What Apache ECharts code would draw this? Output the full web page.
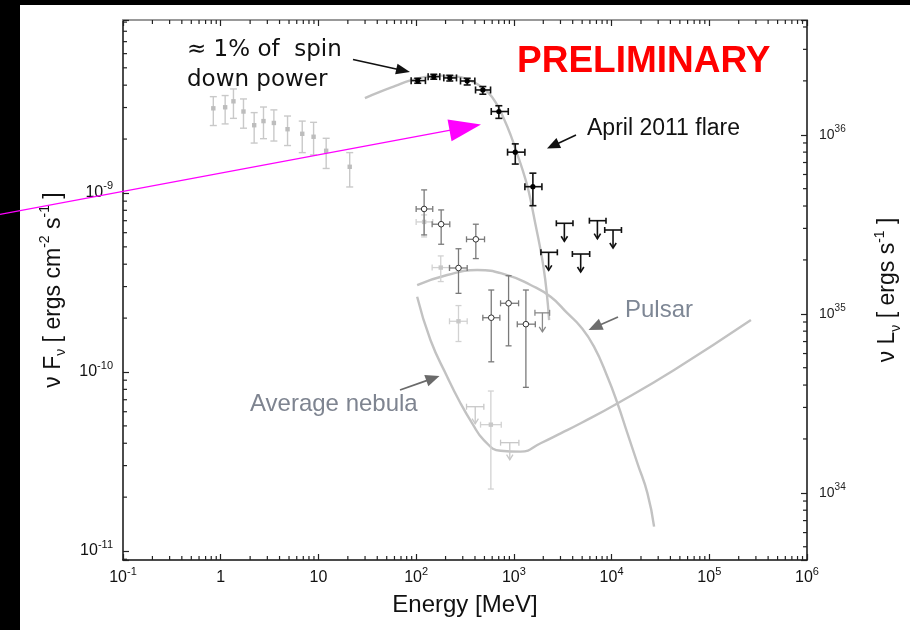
<!DOCTYPE html>
<html>
<head>
<meta charset="utf-8">
<script src="https://cdn.jsdelivr.net/npm/echarts@6/dist/echarts.min.js"></script>
<style>
  html, body { margin: 0; padding: 0; background: #000; }
  #chart { width: 910px; height: 630px; }
</style>
</head>
<body>
<div id="chart"></div>
<script>
// Crab nebula gamma-ray SED: energies in MeV, nuF_nu in erg cm^-2 s^-1

// Low-energy points (squares, vertical error bars only)
const comptelE   = [0.84, 1.11, 1.35, 1.71, 2.20, 2.74, 3.50, 4.83, 6.83, 8.92, 12.0, 20.9];
const comptelF   = [2.97e-9, 3.01e-9, 3.25e-9, 2.85e-9, 2.39e-9, 2.52e-9, 2.46e-9, 2.27e-9, 2.14e-9, 2.06e-9, 1.72e-9, 1.40e-9];
const comptelFLo = [2.38e-9, 2.43e-9, 2.61e-9, 2.30e-9, 1.90e-9, 2.01e-9, 1.95e-9, 1.84e-9, 1.68e-9, 1.63e-9, 1.37e-9, 1.08e-9];
const comptelFHi = [3.45e-9, 3.50e-9, 3.81e-9, 3.35e-9, 2.81e-9, 3.02e-9, 2.91e-9, 2.69e-9, 2.52e-9, 2.48e-9, 2.02e-9, 1.68e-9];

// April 2011 flare spectrum
const flareE   = [103.8, 151.5, 221, 333, 481.5, 702, 1034, 1566];
const flareELo = [88.9, 132.7, 191.8, 284.4, 405.3, 587, 862, 1297];
const flareEHi = [124.5, 174.5, 258.8, 398.7, 577.5, 876.5, 1297, 1937];
const flareF   = [4.24e-9, 4.46e-9, 4.39e-9, 4.22e-9, 3.76e-9, 2.85e-9, 1.69e-9, 1.084e-9];
const flareFLo = [4.10e-9, 4.32e-9, 4.22e-9, 4.01e-9, 3.56e-9, 2.61e-9, 1.45e-9, 8.49e-10];
const flareFHi = [4.37e-9, 4.60e-9, 4.54e-9, 4.37e-9, 3.93e-9, 3.07e-9, 1.88e-9, 1.29e-9];

// April 2011 flare upper limits
const flareUlE   = [2269, 3287, 4829, 7161, 10350];
const flareUlELo = [1892, 2722, 3970, 5929, 8509];
const flareUlEHi = [2786, 4027, 5970, 8770, 12620];
const flareUlF   = [4.66e-10, 6.77e-10, 4.56e-10, 7.00e-10, 6.21e-10];

// Earlier flare (open circles)
const prevE   = [120.7, 180.3, 271.3, 408.2, 587, 883, 1328];
const prevELo = [100, 145.8, 219.4, 327.7, 481.5, 731, 1084];
const prevEHi = [147.9, 221, 333, 501, 719, 1118, 1658];
const prevF   = [8.14e-10, 6.69e-10, 3.81e-10, 5.51e-10, 2.01e-10, 2.42e-10, 1.85e-10];
const prevFLo = [5.83e-10, 5.17e-10, 2.75e-10, 4.30e-10, 1.14e-10, 1.40e-10, 8.21e-11];
const prevFHi = [1.04e-9, 8.04e-10, 4.88e-10, 6.69e-10, 2.87e-10, 3.45e-10, 2.87e-10];
const prevUlE = [1960], prevUlELo = [1643], prevUlEHi = [2323], prevUlF = [2.14e-10];

// Quiescent points (faint squares)
const quietE   = [120.7, 178.6, 271.3, 581.6];
const quietELo = [100, 145.8, 219.4, 456];
const quietEHi = [147.9, 219.4, 333, 743];
const quietF   = [6.89e-10, 3.83e-10, 1.92e-10, 5.08e-11];
const quietFLo = [5.68e-10, 3.20e-10, 1.48e-10, 2.22e-11];
const quietFHi = [7.54e-10, 4.45e-10, 2.35e-10, 7.83e-11];
const quietUlE = [402.4, 908], quietUlELo = [327.7, 731], quietUlEHi = [493, 1126], quietUlF = [6.40e-11, 4.03e-11];

// Model curves
const flareFitE = [29.9, 43.1, 61.3, 87.4, 124.5, 177.4, 252.7, 335.5, 434.9, 550.7, 665.1, 784.7, 925.5, 1066, 1228, 1382, 1519, 1669, 1835, 2017, 2165, 2296];
const flareFitF = [3.39e-9, 3.68e-9, 3.96e-9, 4.25e-9, 4.45e-9, 4.52e-9, 4.48e-9, 4.31e-9, 4.01e-9, 3.62e-9, 3.14e-9, 2.62e-9, 2.11e-9, 1.69e-9, 1.345e-9, 1.08e-9, 8.57e-10, 6.62e-10, 5.12e-10, 3.81e-10, 2.80e-10, 1.95e-10];
const pulsarE = [102.4, 207.8, 421.8, 856, 1484, 2379, 3527, 4829, 6608, 9069, 11480, 14540, 18400, 23300, 27230];
const pulsarF = [3.06e-10, 3.48e-10, 3.71e-10, 3.48e-10, 3.06e-10, 2.63e-10, 2.13e-10, 1.79e-10, 1.385e-10, 9.41e-11, 6.69e-11, 4.54e-11, 3.09e-11, 2.10e-11, 1.37e-11];
const nebulaE = [102.4, 140.1, 207.8, 284.4, 374.8, 492.9, 731, 1172, 1878, 3012, 4829, 11560, 43670, 266800];
const nebulaF = [2.63e-10, 1.51e-10, 9.41e-11, 6.69e-11, 5.17e-11, 4.17e-11, 3.63e-11, 3.59e-11, 4.00e-11, 4.54e-11, 5.17e-11, 6.69e-11, 1.026e-10, 1.95e-10];

// Axis ranges (decimal exponents) and tick labels
const xMinExp = -1, xMaxExp = 6;
const yMinExp = -11.05, yMaxExp = -8.034;
const lumOffsetExp = 44.675;               // log10(4 pi d^2) linking nuF_nu to nuL_nu
const xTickText = ['10^-1', '1', '10', '10^2', '10^3', '10^4', '10^5', '10^6'];   // 1e-1 .. 1e6
const yTickText = ['10^-11', '10^-10', '10^-9'];                                  // 1e-11 .. 1e-9
const lumTickText = ['10^34', '10^35', '10^36'];                                  // 1e34 .. 1e36
const minorSteps = [2, 3, 4, 5, 6, 7, 8, 9];

const FONT = '"Liberation Sans", Arial, Helvetica, sans-serif';

function richLabel(s) {
  const parts = s.split('^');
  return parts.length > 1 ? '{b|' + parts[0] + '}{s|' + parts[1] + '}' : '{b|' + parts[0] + '}';
}
function decadeFormatter(texts, firstExp) {
  return function (v) {
    const e = Math.log10(v), n = Math.round(e);
    if (Math.abs(e - n) > 1e-6) return '';
    const t = texts[n - firstExp];
    return t ? richLabel(t) : '';
  };
}
function zip(...cols) { return cols[0].map((_, i) => cols.map(c => c[i])); }
function seg(x1, y1, x2, y2, style) { return { type: 'line', shape: { x1, y1, x2, y2 }, style }; }

// Points with error bars: rows = [E, F, Elo, Ehi, Flo, Fhi]
function barRenderer(o) {
  return function (params, api) {
    const x = api.value(0), y = api.value(1);
    const c = api.coord([x, y]);
    const st = { stroke: o.color, lineWidth: o.lw, fill: null };
    const kids = [];
    const a = api.coord([x, api.value(4)]), b = api.coord([x, api.value(5)]);
    kids.push(seg(c[0], a[1], c[0], b[1], st),
              seg(c[0] - o.cap, a[1], c[0] + o.cap, a[1], st),
              seg(c[0] - o.cap, b[1], c[0] + o.cap, b[1], st));
    if (o.xBars) {
      const l = api.coord([api.value(2), y]), r = api.coord([api.value(3), y]);
      kids.push(seg(l[0], c[1], r[0], c[1], st),
                seg(l[0], c[1] - o.cap, l[0], c[1] + o.cap, st),
                seg(r[0], c[1] - o.cap, r[0], c[1] + o.cap, st));
    }
    if (o.marker === 'square') {
      kids.push({ type: 'rect', shape: { x: c[0] - 2.2, y: c[1] - 2.2, width: 4.4, height: 4.4 }, style: { fill: o.mColor } });
    } else if (o.marker === 'dot') {
      kids.push({ type: 'circle', shape: { cx: c[0], cy: c[1], r: 2.6 }, style: { fill: o.mColor } });
    } else if (o.marker === 'open') {
      kids.push({ type: 'circle', shape: { cx: c[0], cy: c[1], r: 2.8 }, style: { fill: '#fff', stroke: o.mColor, lineWidth: 1 } });
    }
    return { type: 'group', children: kids };
  };
}
// Upper limits: rows = [E, F, Elo, Ehi]
function ulRenderer(o) {
  return function (params, api) {
    const x = api.value(0), y = api.value(1);
    const c = api.coord([x, y]);
    const l = api.coord([api.value(2), y]), r = api.coord([api.value(3), y]);
    const st = { stroke: o.color, lineWidth: o.lw, fill: null };
    const tip = c[1] + o.len;
    return { type: 'group', children: [
      seg(l[0], c[1], r[0], c[1], st),
      seg(l[0], c[1] - 3, l[0], c[1] + 3, st),
      seg(r[0], c[1] - 3, r[0], c[1] + 3, st),
      seg(c[0], c[1], c[0], tip, st),
      { type: 'polyline', shape: { points: [[c[0] - 3.2, tip - 5], [c[0], tip], [c[0] + 3.2, tip - 5]] }, style: st }
    ] };
  };
}
function barSeries(name, rows, o) {
  return { name, type: 'custom', data: rows, encode: { x: 0, y: 1 }, renderItem: barRenderer(o), z: 5, silent: true };
}
function ulSeries(name, rows, o) {
  return { name, type: 'custom', data: rows, encode: { x: 0, y: 1 }, renderItem: ulRenderer(o), z: 5, silent: true };
}
function curveSeries(name, xs, ys) {
  return {
    name, type: 'line', data: zip(xs, ys), showSymbol: false, smooth: 0.5,
    lineStyle: { color: '#c2c2c2', width: 2.4 }, z: 3, silent: true
  };
}

// Minor log ticks (2..9 per decade)
function minorValues(lo, hi) {
  const out = [];
  for (let d = Math.floor(lo); d <= Math.ceil(hi); d++) {
    minorSteps.forEach(k => {
      const e = d + Math.log10(k);
      if (e > lo && e < hi) out.push(Math.pow(10, d) * k);
    });
  }
  return out;
}
const tickStyle = { stroke: '#222', lineWidth: 1.2 };
const xMinor = minorValues(xMinExp, xMaxExp).map(v => [v, 1e-10]);
const yMinor = minorValues(yMinExp, yMaxExp).map(v => [1, v]);
const lMinor = minorValues(yMinExp + lumOffsetExp, yMaxExp + lumOffsetExp).map(v => [1, v]);

const axisName = { fontFamily: FONT, color: '#111' };

const chart = echarts.init(document.getElementById('chart'), null, { renderer: 'canvas' });

function arrow(x1, y1, x2, y2, color, lw, hl, hw, z) {
  const L = Math.hypot(x2 - x1, y2 - y1), ux = (x2 - x1) / L, uy = (y2 - y1) / L;
  const bx = x2 - ux * hl, by = y2 - uy * hl;
  return [
    { type: 'line', z, silent: true, shape: { x1, y1, x2: bx + ux, y2: by + uy }, style: { stroke: color, lineWidth: lw } },
    { type: 'polygon', z, silent: true, shape: { points: [[x2, y2], [bx - uy * hw / 2, by + ux * hw / 2], [bx + uy * hw / 2, by - ux * hw / 2]] }, style: { fill: color } }
  ];
}
function label(text, x, y, font, fill) {
  return { type: 'text', x, y, z: 6, silent: true, style: { text, font, fill, verticalAlign: 'middle', align: 'left' } };
}

const option = {
  backgroundColor: '#000',
  animation: false,
  grid: { left: 123, right: 103, top: 20, bottom: 70, containLabel: false, outerBoundsMode: 'none' },
  xAxis: [
    {
      type: 'log', logBase: 10, min: Math.pow(10, xMinExp), max: Math.pow(10, xMaxExp), position: 'bottom',
      axisLine: { lineStyle: { color: '#111', width: 1.5 } },
      axisTick: { inside: true, length: 6, lineStyle: { color: '#222', width: 1.2 } },
      splitLine: { show: false },
      axisLabel: {
        margin: 6, formatter: decadeFormatter(xTickText, -1),
        rich: {
          b: { fontFamily: FONT, fontSize: 16, color: '#111', lineHeight: 24 },
          s: { fontFamily: FONT, fontSize: 11, color: '#111', lineHeight: 11, verticalAlign: 'top' }
        }
      },
      name: 'Energy [MeV]', nameLocation: 'middle', nameGap: 33,
      nameTextStyle: Object.assign({ fontSize: 24 }, axisName)
    },
    {
      type: 'log', logBase: 10, min: Math.pow(10, xMinExp), max: Math.pow(10, xMaxExp), position: 'top',
      axisLine: { lineStyle: { color: '#999', width: 2 } },
      axisTick: { inside: true, length: 6, lineStyle: { color: '#222', width: 1.2 } },
      axisLabel: { show: false }, splitLine: { show: false }
    }
  ],
  yAxis: [
    {
      type: 'log', logBase: 10, min: Math.pow(10, yMinExp), max: Math.pow(10, yMaxExp), position: 'left',
      axisLine: { lineStyle: { color: '#111', width: 1.5 } },
      axisTick: { inside: true, length: 6, lineStyle: { color: '#222', width: 1.2 } },
      splitLine: { show: false },
      axisLabel: {
        margin: 10, formatter: decadeFormatter(yTickText, -11),
        rich: {
          b: { fontFamily: FONT, fontSize: 16, color: '#111', lineHeight: 24 },
          s: { fontFamily: FONT, fontSize: 11, color: '#111', lineHeight: 11, verticalAlign: 'top' }
        }
      },
      name: '{t|ν F}{sub|ν}{t| [ ergs cm}{sup|-2}{t| s}{sup|-1}{t| ]}',
      nameLocation: 'middle', nameRotate: 90, nameGap: 54,
      nameTextStyle: Object.assign({ fontSize: 23, rich: {
        t: { fontFamily: FONT, fontSize: 23, color: '#111', lineHeight: 30 },
        sub: { fontFamily: FONT, fontSize: 14, color: '#111', lineHeight: 14, verticalAlign: 'bottom' },
        sup: { fontFamily: FONT, fontSize: 14, color: '#111', lineHeight: 14, verticalAlign: 'top' }
      } }, axisName)
    },
    {
      type: 'log', logBase: 10, min: Math.pow(10, yMinExp + lumOffsetExp), max: Math.pow(10, yMaxExp + lumOffsetExp), position: 'right',
      axisLine: { lineStyle: { color: '#111', width: 1.5 } },
      axisTick: { inside: true, length: 6, lineStyle: { color: '#222', width: 1.2 } },
      splitLine: { show: false },
      axisLabel: {
        margin: 12, formatter: decadeFormatter(lumTickText, 34),
        rich: {
          b: { fontFamily: FONT, fontSize: 14, color: '#222', lineHeight: 22 },
          s: { fontFamily: FONT, fontSize: 10, color: '#222', lineHeight: 10, verticalAlign: 'top' }
        }
      },
      name: '{t|ν L}{sub|ν}{t| [ ergs s}{sup|-1}{t| ]}',
      nameLocation: 'middle', nameRotate: 90, nameGap: 66,
      nameTextStyle: Object.assign({ fontSize: 23, rich: {
        t: { fontFamily: FONT, fontSize: 23, color: '#111', lineHeight: 30 },
        sub: { fontFamily: FONT, fontSize: 14, color: '#111', lineHeight: 14, verticalAlign: 'bottom' },
        sup: { fontFamily: FONT, fontSize: 14, color: '#111', lineHeight: 14, verticalAlign: 'top' }
      } }, axisName)
    }
  ],
  graphic: [
    { type: 'rect', z: -10, silent: true, shape: { x: 20, y: 5, width: 890, height: 625 }, style: { fill: '#fff' } },
    label('≈ 1% of  spin', 187, 50, '23px "DejaVu Sans", sans-serif', '#111'),
    label('down power', 187, 80, '23px "DejaVu Sans", sans-serif', '#111'),
    label('PRELIMINARY', 517, 62, 'bold 37px "Liberation Sans", Arial, sans-serif', '#ff0000'),
    label('April 2011 flare', 587, 129, '23px "Liberation Sans", Arial, sans-serif', '#111'),
    label('Pulsar', 625, 310, '24px "Liberation Sans", Arial, sans-serif', '#7e8795'),
    label('Average nebula', 250, 404, '24px "Liberation Sans", Arial, sans-serif', '#7e8490'),
    ...arrow(353, 59.5, 410, 72, '#111', 1.6, 14, 11, 6),
    ...arrow(576, 135, 547, 148.5, '#111', 1.6, 13, 11, 6),
    ...arrow(618, 317, 588.5, 330, '#6e6e6e', 1.8, 14, 12, 6),
    ...arrow(400, 390, 439.5, 376, '#6a6a6a', 1.8, 14, 12, 6),
    ...arrow(0, 214.4, 481, 124.5, '#ff00ff', 1.2, 32, 22, 20)
  ],
  series: [
    curveSeries('Flare fit', flareFitE, flareFitF),
    curveSeries('Pulsar', pulsarE, pulsarF),
    curveSeries('Average nebula', nebulaE, nebulaF),
    barSeries('Low energy', zip(comptelE, comptelF, comptelE, comptelE, comptelFLo, comptelFHi),
      { color: '#c9c9c9', lw: 1.4, cap: 3.5, xBars: false, marker: 'square', mColor: '#bdbdbd' }),
    barSeries('Quiescent', zip(quietE, quietF, quietELo, quietEHi, quietFLo, quietFHi),
      { color: '#d2d2d2', lw: 1.3, cap: 3, xBars: true, marker: 'square', mColor: '#c8c8c8' }),
    ulSeries('Quiescent UL', zip(quietUlE, quietUlF, quietUlELo, quietUlEHi), { color: '#c8c8c8', lw: 1.3, len: 17 }),
    barSeries('Earlier flare', zip(prevE, prevF, prevELo, prevEHi, prevFLo, prevFHi),
      { color: '#7a7a7a', lw: 1.3, cap: 3, xBars: true, marker: 'open', mColor: '#333' }),
    ulSeries('Earlier flare UL', zip(prevUlE, prevUlF, prevUlELo, prevUlEHi), { color: '#8a8a8a', lw: 1.3, len: 19 }),
    barSeries('April 2011 flare', zip(flareE, flareF, flareELo, flareEHi, flareFLo, flareFHi),
      { color: '#111', lw: 1.6, cap: 3.5, xBars: true, marker: 'dot', mColor: '#000' }),
    ulSeries('April 2011 flare UL', zip(flareUlE, flareUlF, flareUlELo, flareUlEHi), { color: '#111', lw: 1.6, len: 18 }),
    {
      name: 'x minor ticks', type: 'custom', data: xMinor, encode: { x: 0, y: 1 }, silent: true, z: 4,
      renderItem(params, api) {
        const cs = params.coordSys, px = api.coord([api.value(0), api.value(1)])[0], b = cs.y + cs.height;
        return { type: 'group', children: [seg(px, b, px, b - 4, tickStyle), seg(px, cs.y, px, cs.y + 4, tickStyle)] };
      }
    },
    {
      name: 'y minor ticks', type: 'custom', data: yMinor, encode: { x: 0, y: 1 }, silent: true, z: 4,
      renderItem(params, api) {
        const cs = params.coordSys, py = api.coord([api.value(0), api.value(1)])[1];
        return seg(cs.x, py, cs.x + 4, py, tickStyle);
      }
    },
    {
      name: 'L minor ticks', type: 'custom', yAxisIndex: 1, data: lMinor, encode: { x: 0, y: 1 }, silent: true, z: 4,
      renderItem(params, api) {
        const cs = params.coordSys, py = api.coord([api.value(0), api.value(1)])[1], r = cs.x + cs.width;
        return seg(r, py, r - 4, py, tickStyle);
      }
    }
  ]
};
chart.setOption(option);
</script>
</body>
</html>
